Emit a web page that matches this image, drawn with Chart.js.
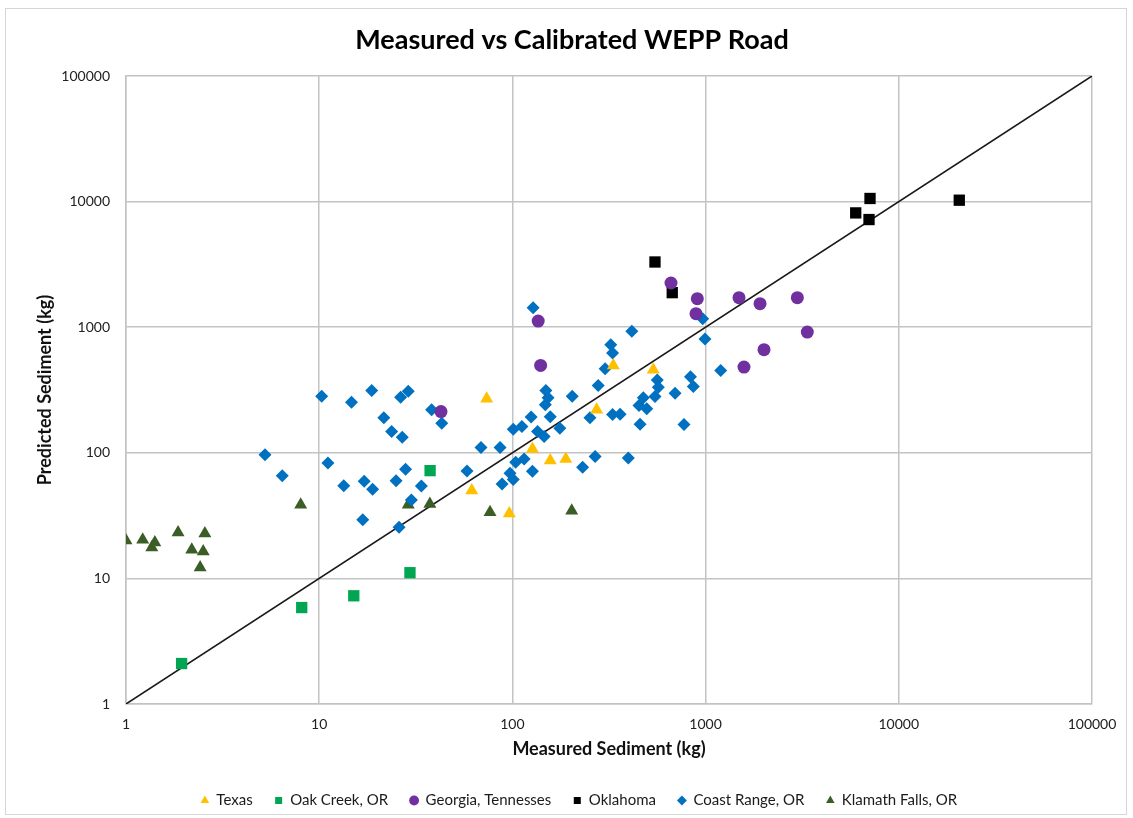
<!DOCTYPE html>
<html>
<head>
<meta charset="utf-8">
<script src="https://cdn.jsdelivr.net/npm/chart.js@4"></script>
<style>
  html, body { margin: 0; padding: 0; background: #ffffff; }
  #wrap { width: 1133px; height: 818px; position: relative; }
</style>
</head>
<body>
<div id="wrap"><canvas id="c" width="1133" height="818"></canvas></div>
<script>
// ---- Data (measured x, predicted y) ----
const tickValues = [1, 10, 100, 1000, 10000, 100000];

const texasX = [73.6, 333, 273, 127, 157, 189, 61.6, 96.4, 536];
const texasY = [269, 496, 220, 107, 86.7, 89.4, 50, 32.9, 458];

const oakCreekX = [1.94, 8.12, 15.1, 29.5, 37.5];
const oakCreekY = [2.10, 5.86, 7.27, 11.1, 72.1];

const georgiaX = [42.7, 136, 140, 662, 906, 892, 1489, 1913, 2985, 3360, 2006, 1580];
const georgiaY = [213, 1119, 496, 2248, 1687, 1282, 1719, 1540, 1719, 914, 662, 481];

const oklahomaX = [547, 672, 7096, 5984, 7012, 20560];
const oklahomaY = [3305, 1884, 10589, 8128, 7196, 10260];

const coastX = [5.24, 6.44, 10.3, 11.1, 13.4, 14.7, 17.1, 16.8, 18.7, 18.9,
  21.6, 23.7, 25.0, 25.9, 26.4, 26.9, 28.0, 28.9, 30.0, 33.8,
  38.2, 43.1, 58.2, 68.8, 86.3, 88.4, 97.2, 101, 101, 104,
  112, 115, 125, 127, 128, 135, 146, 148, 149, 153,
  157, 176, 204, 231, 252, 268, 278, 302, 323, 330,
  330, 361, 398, 415, 452, 458, 476, 496, 547, 562,
  569, 695, 773, 835, 864, 966, 993, 1197];
const coastY = [96.7, 65.8, 282, 82.8, 54.7, 253, 59.3, 29.3, 313, 51.3,
  190, 148, 60.0, 25.6, 277, 133, 74.1, 309, 42.1, 54.5,
  220, 172, 71.7, 110, 110, 56.5, 68.6, 61.4, 154, 84.0,
  162, 89.4, 193, 71.2, 1431, 148, 135, 241, 313, 274,
  194, 157, 282, 76.9, 190, 93.6, 344, 467, 726, 622,
  202, 203, 91.1, 929, 238, 169, 274, 224, 281, 379,
  333, 298, 168, 403, 337, 1169, 805, 452];

const klamathX = [1.0, 1.22, 1.36, 1.41, 1.86, 2.56, 2.19, 2.51, 2.42, 8.02, 28.9, 37.4, 76.6, 202.8];
const klamathY = [20, 20.3, 17.6, 19.3, 23.2, 22.8, 16.9, 16.4, 12.2, 38.6, 38.6, 39.1, 33.6, 34.6];

const lineX = [1, 100000];
const lineY = [1, 100000];

const pairs = (xs, ys) => xs.map((x, i) => ({ x: x, y: ys[i] }));

const FONT = 'Lato, "Open Sans", "Liberation Sans", sans-serif';
const GRID = '#c3c3c3';

const borderPlugin = {
  id: 'outerBorder',
  afterLayout(chart) {
    if (chart.legend) { chart.legend.left += 33; chart.legend.right += 33; }
    if (chart.titleBlock) { chart.titleBlock.left += 26; chart.titleBlock.right += 26; }
  },
  beforeDraw(chart) {
    const ctx = chart.ctx;
    ctx.save();
    ctx.fillStyle = '#ffffff';
    ctx.fillRect(0, 0, chart.width, chart.height);
    ctx.strokeStyle = '#d6d6d6';
    ctx.lineWidth = 1;
    ctx.strokeRect(5.5, 8.5, 1121, 806);
    ctx.restore();
  }
};

new Chart(document.getElementById('c'), {
  type: 'scatter',
  data: {
    datasets: [
      { label: 'Texas', data: pairs(texasX, texasY), pointStyle: 'triangle', pointRadius: 7.5,
        backgroundColor: '#FFC000', borderColor: '#FFC000', borderWidth: 0 },
      { label: 'Oak Creek, OR', data: pairs(oakCreekX, oakCreekY), pointStyle: 'rect', pointRadius: 8,
        backgroundColor: '#00A651', borderColor: '#00A651', borderWidth: 0 },
      { label: 'Georgia, Tennesses', data: pairs(georgiaX, georgiaY), pointStyle: 'circle', pointRadius: 6.5,
        backgroundColor: '#7030A0', borderColor: '#7030A0', borderWidth: 0 },
      { label: 'Oklahoma', data: pairs(oklahomaX, oklahomaY), pointStyle: 'rect', pointRadius: 8,
        backgroundColor: '#000000', borderColor: '#000000', borderWidth: 0 },
      { label: 'Coast Range, OR', data: pairs(coastX, coastY), pointStyle: 'rectRot', pointRadius: 6.5,
        backgroundColor: '#0070C0', borderColor: '#0070C0', borderWidth: 0 },
      { label: 'Klamath Falls, OR', data: pairs(klamathX, klamathY), pointStyle: 'triangle', pointRadius: 7.5,
        backgroundColor: '#3B5E26', borderColor: '#3B5E26', borderWidth: 0 },
      { label: '1:1', data: pairs(lineX, lineY), showLine: true, pointRadius: 0,
        borderColor: '#1a1a1a', borderWidth: 1.6, backgroundColor: '#1a1a1a', order: 10 }
    ]
  },
  options: {
    responsive: false,
    animation: false,
    layout: { padding: { left: 0, right: 41, top: 0, bottom: 0 } },
    plugins: {
      title: {
        display: true,
        text: 'Measured vs Calibrated WEPP Road',
        color: '#000000',
        font: { family: FONT, size: 27, weight: 'bold' },
        padding: { top: 24, bottom: 19.6 }
      },
      legend: {
        position: 'bottom',
        labels: {
          filter: (item) => item.text !== '1:1',
          usePointStyle: true,
          boxWidth: 8,
          boxHeight: 7,
          padding: 22,
          color: '#1a1a1a',
          font: { family: FONT, size: 15 }
        }
      },
      tooltip: { enabled: false }
    },
    scales: {
      x: {
        type: 'logarithmic',
        min: 1, max: 100000,
        afterBuildTicks: (axis) => { axis.ticks = tickValues.map(v => ({ value: v })); },
        afterFit: (scale) => { scale.height = 67; },
        grid: { color: GRID, lineWidth: 1.5, drawTicks: false },
        border: { color: GRID, width: 1.5 },
        ticks: {
          padding: 12, color: '#222222', maxRotation: 0,
          font: { family: FONT, size: 14 },
          callback: (v) => String(v)
        },
        title: {
          display: true, text: 'Measured Sediment (kg)', color: '#111111',
          font: { family: FONT, size: 18, weight: 'bold' },
          padding: { top: 0, bottom: 11.5 }
        }
      },
      y: {
        type: 'logarithmic',
        min: 1, max: 100000,
        afterBuildTicks: (axis) => { axis.ticks = tickValues.map(v => ({ value: v })); },
        afterFit: (scale) => { scale.width = 126; },
        grid: { color: GRID, lineWidth: 1.5, drawTicks: false },
        border: { color: GRID, width: 1.5 },
        ticks: {
          padding: 16, color: '#222222',
          font: { family: FONT, size: 14 },
          callback: (v) => String(v)
        },
        title: {
          display: true, text: 'Predicted Sediment (kg)', color: '#111111',
          font: { family: FONT, size: 18, weight: 'bold' },
          padding: { top: 34, bottom: 0 }
        }
      }
    }
  },
  plugins: [borderPlugin]
});
</script>
</body>
</html>
